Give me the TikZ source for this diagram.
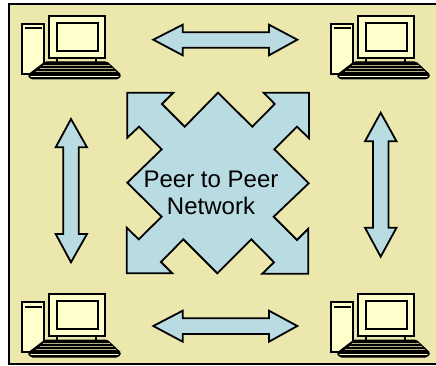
\documentclass[tikz,border=0pt]{standalone}
\usepackage{fontspec}
\setmainfont{Liberation Sans}
\definecolor{deskyellow}{HTML}{ECE8AD}
\definecolor{arrowblue}{HTML}{B9DCE3}
\definecolor{screencream}{HTML}{FFFFCC}
\tikzset{
	arrowshape/.style = {draw = black, fill = arrowblue, line width = 1.8pt, line join = miter},
	boxpart/.style = {draw = black, fill = screencream, line width = 1.6pt},
	pics/computer/.style = {code = {
		\draw [boxpart] (0,0) rectangle (22,50);
		\draw [line width = 2pt] (2.5,4.5) -- (19.5,4.5);
		\draw [line width = 1.6pt] (35,34) -- (35,39);
		\draw [line width = 1.6pt] (74,34) -- (74,39);
		\draw [boxpart] (27,-8) rectangle (83,34);
		\draw [boxpart] (35,-1) rectangle (76,27);
		% keyboard
		\draw [fill = black, line width = 1pt, line join = round, rounded corners = 1.5pt] (23,38) -- (85,38) -- (99,51) -- (96,55) -- (9,55) -- (6,51) -- cycle;
		\foreach \y/\a/\b in {41/21/88, 44/18/91, 47/14/94} {
			\draw [deskyellow!75!black, line width = .8pt] (\a,\y) -- (\b,\y);
		}
		\draw [screencream, line width = 1.3pt, line cap = round] (9,52.3) -- (96,52.3);
	}}
}
\begin{document}
\begin{tikzpicture} [x = 1pt, y = -1pt]
	\useasboundingbox (0,0) rectangle (436,366);
	\draw [fill = deskyellow, line width = 1.8pt] (9,4) rectangle (437,364);

	\foreach \x/\y in {22/24, 331/24, 22/302, 331/302} {
		\pic at (\x,\y) {computer};
	}

	% the four double arrows
	\draw [arrowshape] (153.3,39.7) -- (182.7,24.7) -- (182.7,32.3) -- (269,32.3) -- (269,24.7) -- (297.3,39.7) -- (269,55.3) -- (269,47.7) -- (182.7,47.7) -- (182.7,55.3) -- cycle;
	\draw [arrowshape] (153.3,326) -- (182.7,310.7) -- (182.7,318.3) -- (269,318.3) -- (269,310.7) -- (297.3,326) -- (269,341.7) -- (269,334) -- (182.7,334) -- (182.7,341.7) -- cycle;
	\draw [arrowshape] (71,119) -- (87,147.3) -- (78.7,147.3) -- (78.7,234) -- (87,234) -- (71,262.3) -- (55.7,234) -- (63.3,234) -- (63.3,147.3) -- (55.7,147.3) -- cycle;
	\draw [arrowshape] (380.7,112.7) -- (396.5,141.3) -- (388.4,141.3) -- (388.4,227.7) -- (396.5,227.7) -- (380.7,256.7) -- (365,227.7) -- (373,227.7) -- (373,141.3) -- (365,141.3) -- cycle;

	% centre
	\draw [arrowshape] (127.3,92.7) -- (173.3,92.7) -- (162,104) -- (184.7,126.7) -- (218,92.7) -- (252.3,126.7) -- (274.7,104) -- (263.7,92.7) -- (309,92.7) -- (309,138.3) -- (297,126.7) -- (274.3,149.3) -- (308.7,183.3) -- (273.7,216.7) -- (297,240) -- (308.3,228.7) -- (308.3,273.7) -- (262.3,273.7) -- (274,262.3) -- (251.3,239.3) -- (217.3,273.3) -- (183.3,239.3) -- (161,262) -- (172.3,273.3) -- (126.7,273.3) -- (126.7,227.7) -- (138.7,239.3) -- (161.7,216.7) -- (127.3,182.7) -- (161.7,149.3) -- (139,126.7) -- (127.3,137.7) -- cycle;
	\node [align = center, font = \fontsize{24}{27}\selectfont, inner sep = 0pt] (network) at (211,193) {Peer to Peer\\Network};
\end{tikzpicture}
\end{document}
